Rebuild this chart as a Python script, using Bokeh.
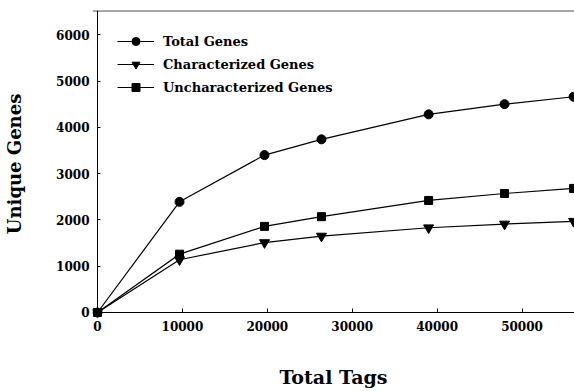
from bokeh.plotting import figure
from bokeh.models import Legend, LegendItem, Span, FixedTicker, Range1d, LinearAxis
from bokeh.embed import file_html
from bokeh.resources import INLINE

# Data
tags = [0, 9660, 19670, 26380, 39000, 47940, 56070]
total_genes = [0, 2390, 3400, 3740, 4280, 4500, 4660]
characterized = [0, 1140, 1510, 1650, 1830, 1910, 1970]
uncharacterized = [0, 1260, 1860, 2070, 2420, 2570, 2680]
x_ticks = [0, 10000, 20000, 30000, 40000, 50000]
y_ticks = [0, 1000, 2000, 3000, 4000, 5000, 6000]

FONT = "DejaVu Serif"
X_START, X_END = -589, 56180
Y_START, Y_END = -108, 6523

p = figure(width=574, height=391, output_backend="svg", toolbar_location=None,
           x_range=Range1d(X_START, X_END), y_range=Range1d(Y_START, Y_END),
           min_border_left=92, min_border_right=0, min_border_top=10,
           min_border_bottom=74)
p.background_fill_color = "white"
p.border_fill_color = "white"
p.outline_line_color = None
p.grid.visible = False

r_tot_l = p.line(tags, total_genes, line_color="black", line_width=1.2)
r_tot_m = p.scatter(tags, total_genes, marker="circle", size=9,
                    fill_color="black", line_color="black")
r_ch_l = p.line(tags, characterized, line_color="black", line_width=1.2)
r_ch_m = p.scatter(tags, characterized, marker="inverted_triangle", size=10,
                   fill_color="black", line_color="black")
r_un_l = p.line(tags, uncharacterized, line_color="black", line_width=1.2)
r_un_m = p.scatter(tags, uncharacterized, marker="square", size=8,
                   fill_color="black", line_color="black")

top_line = Span(location=6515, dimension="width", line_color="black", line_width=1)
p.add_layout(top_line)

# Main axes: labels only (at frame edges)
xa = p.xaxis[0]
xa.ticker = FixedTicker(ticks=x_ticks)
xa.minor_tick_line_color = None
xa.major_tick_line_color = None
xa.axis_line_color = None
xa.major_tick_in = 0
xa.major_tick_out = 0
xa.major_label_standoff = 3
xa.major_label_text_font = FONT
xa.major_label_text_font_style = "bold"
xa.major_label_text_font_size = "12px"
xa.major_label_text_color = "black"
xa.axis_label = "Total Tags"
xa.axis_label_text_font = FONT
xa.axis_label_text_font_style = "bold"
xa.axis_label_text_font_size = "19px"
xa.axis_label_text_color = "black"
xa.axis_label_standoff = 32

ya = p.yaxis[0]
ya.ticker = FixedTicker(ticks=y_ticks)
ya.minor_tick_line_color = None
ya.major_tick_line_color = None
ya.axis_line_color = None
ya.major_tick_in = 0
ya.major_tick_out = 0
ya.major_label_standoff = 3
ya.major_label_text_font = FONT
ya.major_label_text_font_style = "bold"
ya.major_label_text_font_size = "12px"
ya.major_label_text_color = "black"
ya.axis_label = "Unique Genes"
ya.axis_label_text_font = FONT
ya.axis_label_text_font_style = "bold"
ya.axis_label_text_font_size = "18px"
ya.axis_label_text_color = "black"
ya.axis_label_standoff = 28

# Axis lines and inward ticks through the origin (no labels drawn)
xline = LinearAxis(fixed_location=0, bounds=(0, X_END), ticker=FixedTicker(ticks=x_ticks),
                   major_tick_in=4, major_tick_out=0, minor_tick_line_color=None,
                   major_label_text_color=None, major_label_standoff=0,
                   axis_line_color="black", major_tick_line_color="black")
yline = LinearAxis(fixed_location=0, bounds=(0, Y_END), ticker=FixedTicker(ticks=y_ticks),
                   major_tick_in=3, major_tick_out=0, minor_tick_line_color=None,
                   major_label_text_color=None, major_label_standoff=0,
                   axis_line_color="black", major_tick_line_color="black")
p.add_layout(xline, "below")
p.add_layout(yline, "left")

legend = Legend(items=[
    LegendItem(label="Total Genes", renderers=[r_tot_l, r_tot_m]),
    LegendItem(label="Characterized Genes", renderers=[r_ch_l, r_ch_m]),
    LegendItem(label="Uncharacterized Genes", renderers=[r_un_l, r_un_m]),
], location=(25, 220), orientation="vertical")
legend.border_line_color = None
legend.background_fill_alpha = 0
legend.padding = 0
legend.margin = 0
legend.spacing = 3
legend.glyph_width = 37
legend.glyph_height = 20
legend.label_height = 20
legend.label_standoff = 9
legend.label_text_font = FONT
legend.label_text_font_style = "bold"
legend.label_text_font_size = "13px"
legend.label_text_color = "black"
p.add_layout(legend)

open("out.html", "w").write(file_html(p, INLINE))
